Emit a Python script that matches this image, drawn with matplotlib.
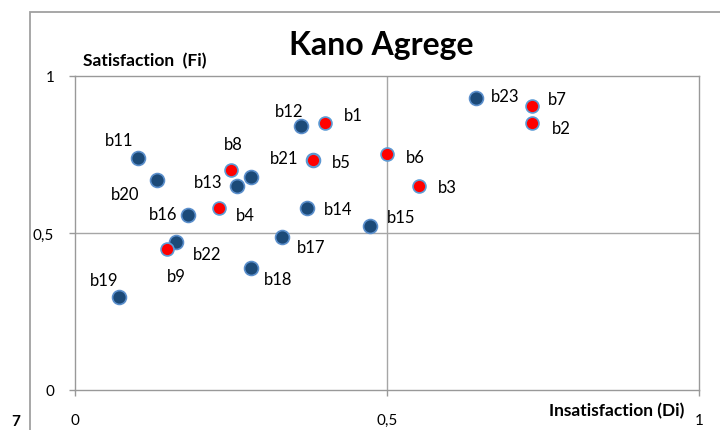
import matplotlib
matplotlib.use("Agg")
import matplotlib.pyplot as plt
from matplotlib.patches import Rectangle

plt.rcParams["font.family"] = ["Lato", "DejaVu Sans"]

# Kano coordinates per requirement: x = insatisfaction (Di), y = satisfaction (Fi)
red_names = ["b1", "b2", "b3", "b4", "b5", "b6", "b7", "b8", "b9"]
red_x = [0.401, 0.732, 0.551, 0.231, 0.381, 0.500, 0.732, 0.250, 0.147]
red_y = [0.850, 0.850, 0.650, 0.580, 0.732, 0.752, 0.904, 0.701, 0.449]

blue_names = ["b10", "b11", "b12", "b13", "b14", "b15", "b16", "b17",
              "b18", "b19", "b20", "b21", "b22", "b23"]
blue_x = [0.282, 0.101, 0.362, 0.260, 0.372, 0.473, 0.181, 0.332,
          0.282, 0.0705, 0.131, 0.381, 0.162, 0.643]
blue_y = [0.678, 0.739, 0.841, 0.650, 0.580, 0.522, 0.557, 0.487,
          0.389, 0.296, 0.669, 0.732, 0.471, 0.930]

ticks = [0, 0.5, 1]
tick_labels = ["0", "0,5", "1"]

# label offsets in pixels (dx, dy downward, alignment)
label_pos = {
    "b1": (19, -8, "left"), "b2": (20, 5, "left"), "b3": (19, 1, "left"),
    "b4": (17, 7, "left"), "b5": (19, 2, "left"), "b6": (19, 3, "left"),
    "b7": (16, -7, "left"), "b8": (2, -26, "center"), "b9": (10, 27, "center"),
    "b11": (-19, -18, "center"), "b12": (-12, -15, "center"),
    "b13": (-15, -4, "right"), "b14": (17, 1, "left"), "b15": (17, -9, "left"),
    "b16": (-11, -1, "right"), "b17": (15, 10, "left"), "b18": (13, 11, "left"),
    "b19": (-15, -17, "center"), "b20": (-32, 14, "center"),
    "b21": (-14, -2, "right"), "b22": (17, 12, "left"), "b23": (15, -2, "left"),
}

W, H = 720, 431
fig = plt.figure(figsize=(W / 100, H / 100), dpi=100)
ax = fig.add_axes([75 / W, (H - 391) / H, 624 / W, 314 / H])

grey = "#999999"
ax.axvline(0.5, color="#a6a6a6", lw=1, zorder=1)
ax.axhline(0.5, color="#a6a6a6", lw=1, zorder=1)

ax.plot(blue_x, blue_y, "o", ms=10, mfc="#1c4a78", mec="#5b8fcc", mew=1.2,
        ls="none", zorder=3)
ax.plot(red_x, red_y, "o", ms=9.3, mfc="#ff0000", mec="#5b9bd5", mew=1.2,
        ls="none", zorder=4)

for names, xs, ys in [(blue_names, blue_x, blue_y), (red_names, red_x, red_y)]:
    for n, x, y in zip(names, xs, ys):
        if n not in label_pos:
            continue
        dx, dy, ha = label_pos[n]
        ax.annotate(n, (x, y), xytext=(dx, -dy), textcoords="offset pixels",
                    ha=ha, va="center", fontsize=12, color="black", zorder=5)

ax.set_xlim(0, 1)
ax.set_ylim(0, 1)
ax.set_xticks(ticks)
ax.set_xticklabels(tick_labels)
ax.set_yticks(ticks)
ax.set_yticklabels(tick_labels)
ax.tick_params(axis="both", length=4, width=1, color=grey, labelsize=11)
ax.tick_params(axis="y", pad=11)
ax.tick_params(axis="x", pad=12.5)
for sp in ax.spines.values():
    sp.set_color(grey)
    sp.set_linewidth(1)

# chart frame
fig.patches.append(Rectangle((30 / W, -0.1), 1, (H - 13) / H + 0.1,
                             transform=fig.transFigure, fill=False,
                             edgecolor="#a0a0a0", lw=1.3))

fig.text(381 / W, 1 - 55 / H, "Kano Agrege", ha="center", va="baseline",
         fontsize=23, fontweight="bold")
fig.text(83 / W, 1 - 66 / H, "Satisfaction  (Fi)", ha="left", va="baseline",
         fontsize=12.5, fontweight="bold")
fig.text(684 / W, 1 - 416 / H, "Insatisfaction (Di)", ha="right",
         va="baseline", fontsize=12.5, fontweight="bold")
fig.text(16 / W, 2 / H, "7", ha="center", va="bottom", fontsize=11,
         fontweight="bold")

fig.savefig("out.png", dpi=100)
